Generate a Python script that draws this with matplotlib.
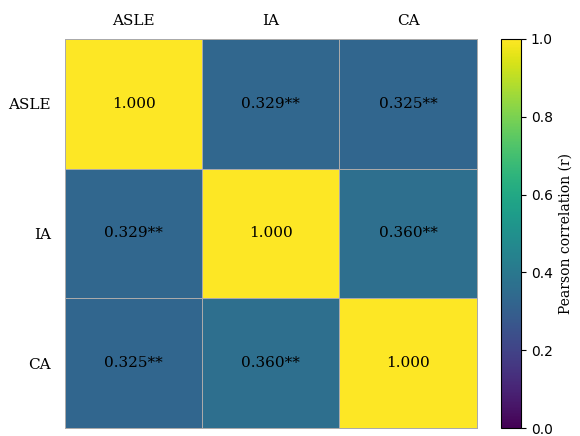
import numpy as np
import matplotlib
matplotlib.use("Agg")
import matplotlib.pyplot as plt

labels = ["ASLE", "IA", "CA"]
corr = np.array([
    [1.000, 0.329, 0.325],
    [0.329, 1.000, 0.360],
    [0.325, 0.360, 1.000],
])
stars = [
    ["", "**", "**"],
    ["**", "", "**"],
    ["**", "**", ""],
]

fig = plt.figure(figsize=(5.8, 4.36), dpi=100)
ax = fig.add_axes([0.112, 0.0183, 0.710, 0.8923])
cax = fig.add_axes([0.864, 0.0183, 0.0345, 0.8923])

mesh = ax.pcolormesh(corr, cmap="viridis", vmin=0, vmax=1,
                     edgecolors="#aaaaaa", linewidth=0.7)
mesh.set_clip_on(False)
ax.set_xlim(0, 3)
ax.set_ylim(3, 0)
for s in ax.spines.values():
    s.set_visible(False)

ax.xaxis.tick_top()
ax.set_xticks(np.arange(3) + 0.5)
ax.set_yticks(np.arange(3) + 0.5)
ax.set_xticklabels(labels, family="serif", fontsize=11)
ax.set_yticklabels(labels, family="serif", fontsize=11)
ax.tick_params(axis="x", length=0, pad=8)
ax.tick_params(axis="y", length=0, pad=10)

for i in range(3):
    for j in range(3):
        ax.text(j + 0.5, i + 0.5, f"{corr[i, j]:.3f}{stars[i][j]}",
                ha="center", va="center", family="serif", fontsize=11,
                color="black")

cb = fig.colorbar(mesh, cax=cax)
cb.set_ticks([0.0, 0.2, 0.4, 0.6, 0.8, 1.0])
cb.set_label("Pearson correlation (r)", family="serif", fontsize=10)

fig.savefig("out.png", dpi=100)
